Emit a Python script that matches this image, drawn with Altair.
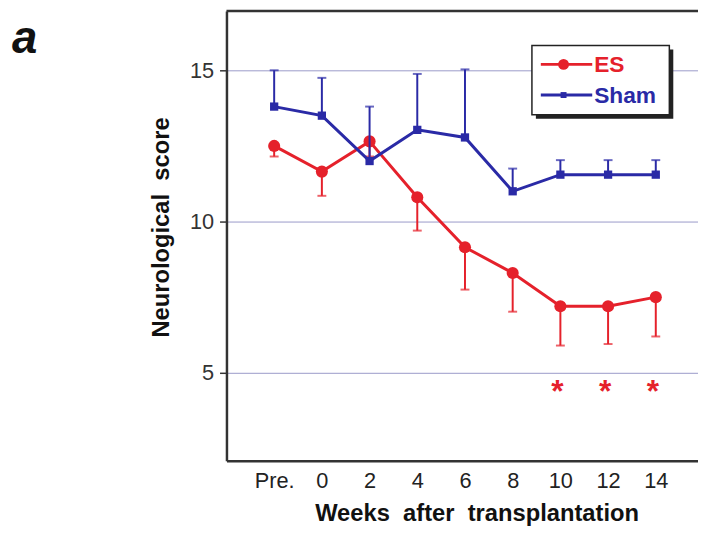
import altair as alt
import pandas as pd

# ---- data ----
weeks = ["Pre.", "0", "2", "4", "6", "8", "10", "12", "14"]
es_mean = [12.5, 11.65, 12.65, 10.8, 9.15, 8.3, 7.2, 7.2, 7.5]
es_sd = [0.35, 0.8, 0.5, 1.1, 1.4, 1.28, 1.3, 1.25, 1.3]
sham_mean = [13.8, 13.5, 12.0, 13.03, 12.78, 11.0, 11.55, 11.55, 11.55]
sham_sd = [1.2, 1.25, 1.8, 1.85, 2.25, 0.75, 0.48, 0.48, 0.48]
star_weeks = ["10", "12", "14"]
star_level = 4.05
y_ticks = [5, 10, 15]

idx = list(range(len(weeks)))
df = pd.DataFrame({
    "i": idx,
    "week": weeks,
    "es": es_mean,
    "es_lo": [m - s for m, s in zip(es_mean, es_sd)],
    "sham": sham_mean,
    "sham_hi": [m + s for m, s in zip(sham_mean, sham_sd)],
})
stars = pd.DataFrame({"i": [weeks.index(w) for w in star_weeks],
                      "y": [star_level] * len(star_weeks)})
one = pd.DataFrame({"k": [0]})

W, H = 477, 455
RED = "#e5212b"
BLUE = "#2a2aa6"
FRAME = "#333333"
FONT = "Liberation Sans"

xs = alt.Scale(domain=[-1, 8.885], nice=False, zero=False)
ys = alt.Scale(domain=[2.09, 16.96], nice=False, zero=False)

label_expr = "[" + ",".join("'%s'" % w for w in weeks) + "][datum.value]"

x_axis = alt.Axis(
    values=idx, labelExpr=label_expr, ticks=False, grid=False,
    domainColor=FRAME, domainWidth=2.5,
    labelFontSize=22, labelColor="#222", labelFont=FONT,
    labelBaseline="alphabetic", labelPadding=27,
    title="Weeks\u00a0\u00a0after\u00a0\u00a0transplantation",
    titleFontSize=24, titleFont=FONT, titleFontWeight="bold", titleColor="#111",
    titleX=253, titleY=60, titleBaseline="alphabetic", titleAlign="center",
)
y_axis = alt.Axis(
    values=y_ticks, tickSize=7, tickColor=FRAME, tickWidth=1.5,
    labelPadding=6, labelFontSize=22, labelColor="#333", labelFont=FONT,
    grid=True, gridColor="#9a9ac8", gridWidth=1,
    domainColor=FRAME, domainWidth=2.5,
    title="Neurological\u00a0\u00a0score",
    titleFontSize=24, titleFont=FONT, titleFontWeight="bold", titleColor="#111",
    titleX=-65.5, titleY=218.5, titleBaseline="middle", titleAngle=270,
    titleAlign="center",
)

X = alt.X("i:Q", scale=xs, axis=x_axis)


def Y(field):
    return alt.Y(field, type="quantitative", scale=ys, axis=y_axis)


base = alt.Chart(df)

es_err = base.mark_rule(color=RED, strokeWidth=2).encode(x=X, y=Y("es"), y2="es_lo:Q")
es_cap = base.mark_tick(orient="horizontal", color=RED, size=9, thickness=2).encode(x=X, y=Y("es_lo"))
es_line = base.mark_line(color=RED, strokeWidth=3).encode(x=X, y=Y("es"))
es_pts = base.mark_point(shape="circle", filled=True, size=150, color=RED, opacity=1).encode(x=X, y=Y("es"))

sh_err = base.mark_rule(color=BLUE, strokeWidth=2).encode(x=X, y=Y("sham"), y2="sham_hi:Q")
sh_cap = base.mark_tick(orient="horizontal", color=BLUE, size=9, thickness=2).encode(x=X, y=Y("sham_hi"))
sh_line = base.mark_line(color=BLUE, strokeWidth=3).encode(x=X, y=Y("sham"))
sh_pts = base.mark_point(shape="square", filled=True, size=70, color=BLUE, opacity=1).encode(x=X, y=Y("sham"))

star_marks = alt.Chart(stars).mark_text(
    text="*", color=RED, fontSize=32, fontWeight="bold", font=FONT,
    baseline="alphabetic", dx=-3,
).encode(x=X, y=Y("y"))

deco = alt.Chart(one)
top_border = deco.mark_rule(color=FRAME, strokeWidth=2.5).encode(
    x=alt.value(0), x2=alt.value(W), y=alt.value(0))

# legend box
lx0, lx1, ly0, ly1 = 309, 448, 35, 105
leg_shadow = deco.mark_rect(color="#222").encode(
    x=alt.value(lx0 + 4), x2=alt.value(lx1 + 4), y=alt.value(ly0 + 4), y2=alt.value(ly1 + 4))
leg_box = deco.mark_rect(fill="white", stroke="#222", strokeWidth=1.5).encode(
    x=alt.value(lx0), x2=alt.value(lx1), y=alt.value(ly0), y2=alt.value(ly1))
row_es, row_sh = 54, 85
leg_es_line = deco.mark_rule(color=RED, strokeWidth=3).encode(
    x=alt.value(318), x2=alt.value(370), y=alt.value(row_es))
leg_sh_line = deco.mark_rule(color=BLUE, strokeWidth=3).encode(
    x=alt.value(318), x2=alt.value(370), y=alt.value(row_sh))
leg_es_pt = deco.mark_point(shape="circle", filled=True, size=120, color=RED, opacity=1).encode(
    x=alt.value(341), y=alt.value(row_es))
leg_sh_pt = deco.mark_point(shape="square", filled=True, size=36, color=BLUE, opacity=1).encode(
    x=alt.value(341), y=alt.value(row_sh))
leg_es_txt = deco.mark_text(text="ES", color=RED, fontSize=23, fontWeight="bold", font=FONT,
                            align="left", baseline="middle").encode(
    x=alt.value(372), y=alt.value(row_es + 1))
leg_sh_txt = deco.mark_text(text="Sham", color=BLUE, fontSize=23, fontWeight="bold", font=FONT,
                            align="left", baseline="middle").encode(
    x=alt.value(372), y=alt.value(row_sh + 1))

panel_label = deco.mark_text(text="a", fontSize=46, fontWeight="bold", fontStyle="italic",
                             font=FONT, color="#111", align="left", baseline="alphabetic").encode(
    x=alt.value(-217), y=alt.value(42))

chart = alt.layer(
    es_err, es_cap, es_line, es_pts,
    sh_err, sh_cap, sh_line, sh_pts,
    star_marks, top_border,
    leg_shadow, leg_box, leg_es_line, leg_sh_line, leg_es_pt, leg_sh_pt, leg_es_txt, leg_sh_txt,
    panel_label,
).properties(
    width=W, height=H,
    autosize=alt.AutoSizeParams(type="none"),
    padding={"left": 221, "top": 0, "right": 0, "bottom": 70},
).configure_view(stroke=None)

chart.save("out.html", embed_options={"renderer": "svg", "actions": False})
